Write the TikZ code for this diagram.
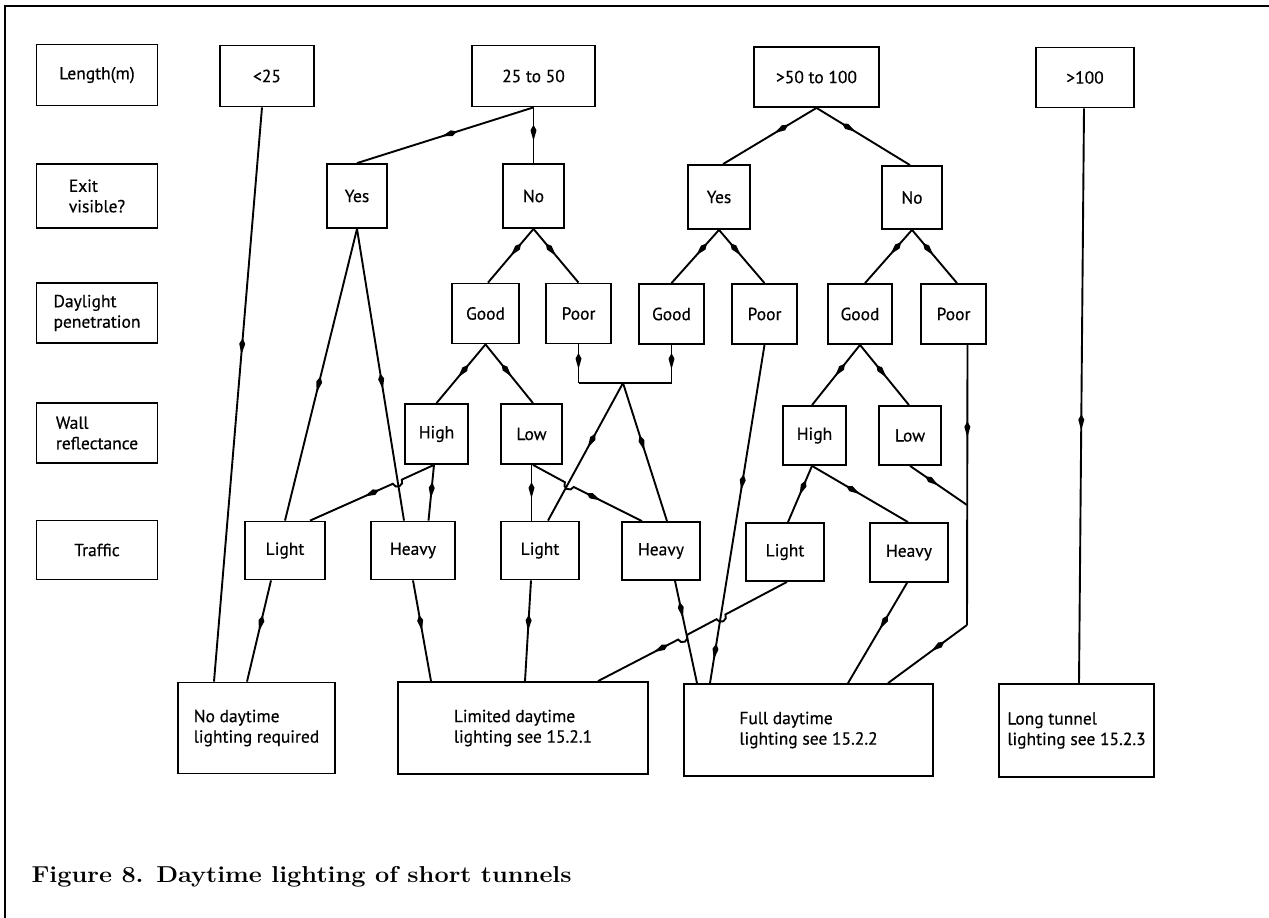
\documentclass[tikz,border=0pt]{standalone}
\usepackage{fontspec}
\newfontfamily\diagfont[FakeBold=0.5]{PT Sans}
\usepackage{tikz}
\usetikzlibrary{arrows.meta,decorations.markings}

\tikzset{
  box/.style 2 args={draw,line width=1.8pt,minimum width=#1pt,minimum height=#2pt,
    inner sep=1pt,align=left,font=\diagfont\fontsize{17.5}{20.5}\selectfont},
  link/.style={line width=1.9pt},
  arr/.style={postaction={decorate,decoration={markings,
    mark=at position #1 with {\arrow{Kite[length=16pt,width=6pt,inset=5.5pt]}}}}},
}

\begin{document}
\begin{tikzpicture}[x=1pt,y=-1pt]
\useasboundingbox (0,0) rectangle (1269,918);
\draw[line width=1.5pt] (5,918) -- (5,6) -- (1269,6);

% row headings
\foreach \nm/\bh/\y/\txt in {hLen/61/75/{Length(m)},hExit/64/196/{Exit\\visible?},
    hDay/60/313/{Daylight\\penetration},hWall/60/433/{Wall\\reflectance},hTraf/59/550/{Traffic}}
  \node[box={121}{\bh}] (\nm) at (97,\y) {\txt};

% length
\node[box={94}{61}] (lt25) at (267,76) {<25};
\node[box={123}{61}] (r25) at (533.5,76) {25 to 50};
\node[box={125}{60}] (r50) at (816.5,77) {>50 to 100};
\node[box={98}{60}] (gt100) at (1085,77.5) {>100};

% exit visible
\node[box={60}{64}] (yes1) at (357,196) {Yes};
\node[box={61}{64}] (no1) at (533.5,196) {No};
\node[box={62}{64}] (yes2) at (719,197) {Yes};
\node[box={60}{63}] (no2) at (912,197.5) {No};

% daylight
\node[box={67}{60}] (good1) at (485.5,313.5) {Good};
\node[box={65}{60}] (poor1) at (578.5,313.5) {Poor};
\node[box={65}{60}] (good2) at (671.5,314) {Good};
\node[box={65}{60}] (poor2) at (764.5,314) {Poor};
\node[box={64}{60}] (good3) at (860,314) {Good};
\node[box={65}{60}] (poor3) at (953.5,314) {Poor};

% wall
\node[box={63}{60}] (high1) at (436.5,434) {High};
\node[box={61}{60}] (low1) at (531.5,434) {Low};
\node[box={63}{59}] (high2) at (814.5,435.5) {High};
\node[box={62}{59}] (low2) at (910,435.5) {Low};

% traffic
\node[box={80}{58}] (light1) at (285,550.5) {Light};
\node[box={84}{58}] (heavy1) at (413,550.5) {Heavy};
\node[box={78}{58}] (light2) at (540,550.5) {Light};
\node[box={78}{58}] (heavy2) at (661,551) {Heavy};
\node[box={78}{58}] (light3) at (785,552) {Light};
\node[box={78}{59}] (heavy3) at (909,552.5) {Heavy};

% outcomes
\node[box={157}{91}] (noLight) at (256.5,728) {No daytime\\lighting required};
\node[box={250}{92}] (limited) at (523,728) {Limited daytime\\lighting see 15.2.1};
\node[box={249}{92}] (full) at (808.5,730) {Full daytime\\lighting see 15.2.2};
\node[box={155}{93}] (longT) at (1076.5,730.5) {Long tunnel\\lighting see 15.2.3};

\coordinate (mrg) at (623,383);
\coordinate (pjn) at (967,505);
\coordinate (pbend) at (967,625);

\draw[link,arr=0.43] ([xshift=-5pt]lt25.south) -- ([xshift=-42.5pt]noLight.north);
\draw[link,arr=0.52] (r25.south) -- (yes1.north);
\draw[link,arr=0.6] (r25.south) -- (no1.north);
\draw[link,arr=0.45] (r50.south) -- ([xshift=4pt]yes2.north);
\draw[link,arr=0.42] (r50.south) -- ([xshift=-2pt]no2.north);
\draw[link,arr=0.56] ([xshift=-1pt]gt100.south) -- ([xshift=2.5pt]longT.north);

\draw[link,arr=0.56] (yes1.south) -- (light1.north);
\draw[link,arr=0.55] (yes1.south) -- ([xshift=-9pt]heavy1.north);
\draw[link,arr=0.5] (no1.south) -- ([xshift=2.5pt]good1.north);
\draw[link,arr=0.5] (no1.south) -- (poor1.north);
\draw[link,arr=0.48] (yes2.south) -- (good2.north);
\draw[link,arr=0.48] (yes2.south) -- (poor2.north);
\draw[link,arr=0.46] (no2.south) -- ([xshift=5pt]good3.north);
\draw[link,arr=0.48] (no2.south) -- ([xshift=3.5pt]poor3.north);

\draw[link,arr=0.56] (good1.south) -- (high1.north);
\draw[link,arr=0.55] (good1.south) -- ([xshift=1.5pt]low1.north);
\draw[link,arr=0.52] (good3.south) -- ([xshift=-2.5pt]high2.north);
\draw[link,arr=0.54] (good3.south) -- ([xshift=-1pt]low2.north);

\draw[link,arr=0.64] (poor1.south) -- (poor1.south |- mrg);
\draw[link,arr=0.64] (good2.south) -- (good2.south |- mrg);
\draw[link] (poor1.south |- mrg) -- (good2.south |- mrg);
\draw[link,arr=0.47] (mrg) -- ([xshift=8pt]light2.north);
\draw[link,arr=0.49] (mrg) -- ([xshift=6pt]heavy2.north);

\draw[link,arr=0.58] ([xshift=-2.5pt]high1.south) -- ++(-32.1,14.7)
  arc[start angle=24.7,end angle=-155.3,radius=5pt] -- ([xshift=25pt]light1.north);
\draw[link,arr=0.6] ([xshift=-2.5pt]high1.south) -- ([xshift=15.5pt]heavy1.north);
\draw[link,arr=0.6] (low1.south) -- (low1.south |- light2.north);
\draw[link,arr=0.64] ([xshift=1.5pt]low1.south) -- ++(31.9,17.3)
  arc[start angle=151.6,end angle=331.6,radius=5pt] -- ([xshift=-19pt]heavy2.north);

\draw[link,arr=0.52] ([xshift=-2.5pt]high2.south) -- ([xshift=3pt]light3.north);
\draw[link,arr=0.5] ([xshift=-2.5pt]high2.south) -- ([xshift=-1pt]heavy3.north);
\draw[link,arr=0.5] (low2.south) -- (pjn);
\draw[link,arr=0.33] ([xshift=14pt]poor3.south) -- (pbend);
\draw[link,arr=0.45] (pbend) -- ([xshift=79.5pt]full.north);

\draw[link,arr=0.5] ([xshift=-14pt]light1.south) -- ([xshift=-9.5pt]noLight.north);
\draw[link,arr=0.5] (heavy1.south) -- ([xshift=-92pt]limited.north);
\draw[link,arr=0.5] ([xshift=-9pt]light2.south) -- ([xshift=2pt]limited.north);
\draw[link,arr=0.36] ([xshift=14pt]heavy2.south) -- ([xshift=-111.5pt]full.north);
\draw[link,arr=0.43,arr=0.93] (poor2.south) -- ([xshift=-98.5pt]full.north);
\draw[link,arr=0.72] ([xshift=2pt]light3.south) -- ++(-61.6,32.6)
  arc[start angle=27.9,end angle=-152.1,radius=5pt] -- ++(-29.6,15.7)
  arc[start angle=27.9,end angle=-152.1,radius=5pt] -- ([xshift=75pt]limited.north);
\draw[link,arr=0.46] ([xshift=-2pt]heavy3.south) -- ([xshift=39.5pt]full.north);

\node[anchor=base west,font=\bfseries\fontsize{23}{27}\selectfont] (caption) at (28,882)
  {\scalebox{1.1}[1]{Figure 8. Daytime lighting of short tunnels}};
\end{tikzpicture}
\end{document}
